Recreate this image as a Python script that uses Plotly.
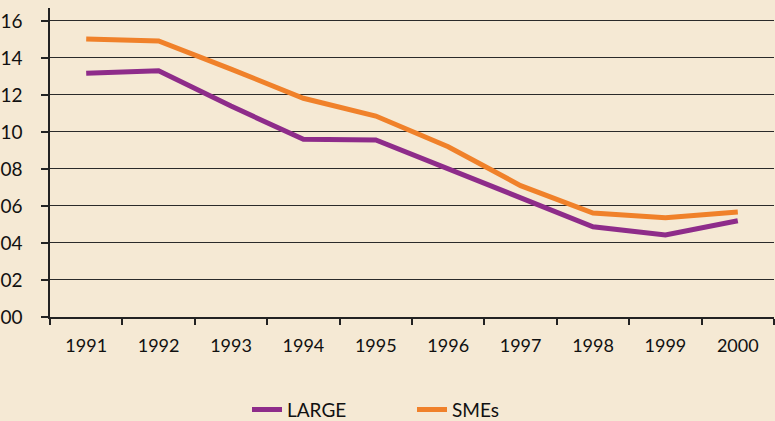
import plotly.graph_objects as go

years = ["1991", "1992", "1993", "1994", "1995", "1996", "1997", "1998", "1999", "2000"]
large = [13.17, 13.31, 11.4, 9.6, 9.57, 8.0, 6.4, 4.88, 4.43, 5.2]
smes = [15.03, 14.92, 13.4, 11.82, 10.86, 9.2, 7.1, 5.62, 5.37, 5.68]
ytick_vals = [0, 2, 4, 6, 8, 10, 12, 14, 16]
ytick_text = ["00", "02", "04", "06", "08", "10", "12", "14", "16"]

BG = "#f5e9d4"
FONT = "Lato"

fig = go.Figure()
fig.add_trace(go.Scatter(x=years, y=large, name="LARGE", mode="lines",
                         line=dict(color="#8e2c8a", width=5)))
fig.add_trace(go.Scatter(x=years, y=smes, name="SMEs", mode="lines",
                         line=dict(color="#f0812a", width=5)))

fig.update_layout(
    width=775, height=421,
    paper_bgcolor=BG, plot_bgcolor=BG,
    margin=dict(l=50, r=1, t=8, b=104, autoexpand=False),
    font=dict(family=FONT, size=17, color="#111"),
    showlegend=True,
    legend=dict(orientation="h", x=0.5, xanchor="center", y=-0.30, yanchor="middle",
                font=dict(size=19, color="#111"), bgcolor="rgba(0,0,0,0)",
                entrywidth=120, entrywidthmode="pixels", traceorder="normal"),
)
fig.update_xaxes(
    type="category", showgrid=False, showline=True, linecolor="#222", linewidth=1.5,
    ticks="outside", tickson="boundaries", ticklen=6, tickcolor="#222", tickwidth=1.5,
    ticklabelstandoff=12, tickfont=dict(size=18, family=FONT, color="#111"),
    range=[-0.5, 9.5], automargin=False,
)
fig.update_yaxes(
    range=[0, 16.7], tickvals=ytick_vals, ticktext=ytick_text,
    showgrid=True, gridcolor="#2a2a2a", gridwidth=1.3, zeroline=False,
    showline=True, linecolor="#222", linewidth=1.5,
    ticks="outside", ticklen=7, tickcolor="#222", tickwidth=1.5,
    ticklabelstandoff=15, tickfont=dict(size=19, family=FONT, color="#111"),
    automargin=False,
)

fig.write_html(
    "out.html",
    config={"displayModeBar": False},
    post_script="document.body.style.margin='0';document.body.style.background='" + BG + "';",
)
